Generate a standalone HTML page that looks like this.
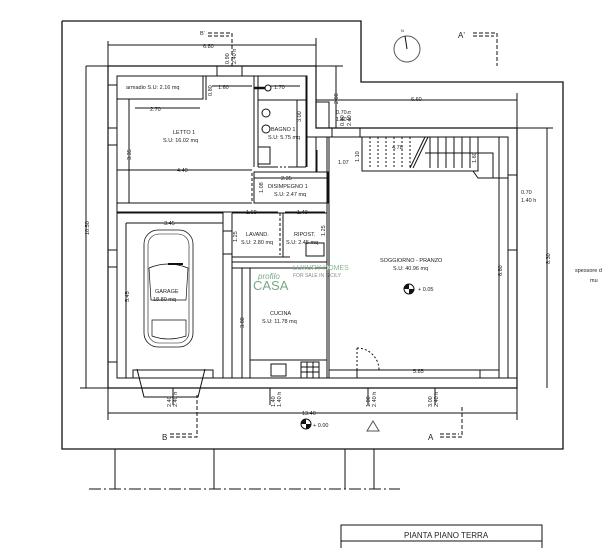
<!DOCTYPE html>
<html><head><meta charset="utf-8"><style>
html,body{margin:0;padding:0;background:#fff;}
svg{display:block;}
text{font-family:"Liberation Sans",sans-serif;fill:#222;}
</style></head><body>
<svg width="606" height="548" viewBox="0 0 606 548" xmlns="http://www.w3.org/2000/svg">
<g fill="none" stroke="#111" stroke-width="1">
<polyline points="62,21 361,21 361,82 563,82 563,449 62,449 62,21" stroke-width="1.3"/>
<polyline points="108,66 316,66 316,128 517,128 517,388 108,388 108,66" stroke-width="1.2"/>
<polyline points="117,76 307,76 307,137 508,137 508,378 117,378 117,76"/>
<rect x="217" y="66" width="25" height="10"/>
<rect x="316" y="102" width="13" height="26"/>
<line x1="316" y1="128" x2="329" y2="128"/>
<rect x="332" y="128" width="28" height="9"/>
<line x1="108" y1="85" x2="117" y2="85"/><line x1="108" y1="128" x2="117" y2="128"/><line x1="108" y1="145" x2="117" y2="145"/>
<line x1="108" y1="250" x2="117" y2="250"/><line x1="108" y1="267" x2="117" y2="267"/><line x1="108" y1="362" x2="117" y2="362"/>
<rect x="117" y="76" width="86" height="23"/>
<line x1="117" y1="99" x2="203" y2="99" stroke-dasharray="3,2"/>
<line x1="203" y1="76" x2="203" y2="99"/><line x1="206" y1="76" x2="206" y2="100"/>
<line x1="117" y1="203" x2="252" y2="203"/>
<line x1="117" y1="212" x2="252" y2="212"/>
<line x1="252" y1="173" x2="252" y2="203" stroke-dasharray="3,2"/>
<line x1="254" y1="76" x2="254" y2="167"/>
<line x1="258" y1="100" x2="306" y2="100"/>
<line x1="258" y1="76" x2="258" y2="167"/>
<line x1="258" y1="167" x2="276" y2="167"/><line x1="288" y1="167" x2="306" y2="167"/>
<line x1="276" y1="167" x2="288" y2="167" stroke-dasharray="2,2"/>
<line x1="307" y1="76" x2="307" y2="167"/><line x1="306" y1="76" x2="306" y2="167"/>
<line x1="316" y1="137" x2="316" y2="172"/>
<line x1="307" y1="137" x2="329" y2="137"/>
<line x1="329" y1="137" x2="329" y2="378"/>
<line x1="327" y1="137" x2="327" y2="378"/>
<rect x="258" y="147" width="12" height="17"/>
<circle cx="266" cy="113" r="4"/><circle cx="266" cy="129" r="4"/>
<circle cx="268" cy="88" r="3"/>
<line x1="254" y1="88" x2="265" y2="88" stroke-width="2.5"/>
<rect x="254" y="172" width="74" height="31"/>
<line x1="232" y1="213" x2="327" y2="213"/>
<line x1="232" y1="213" x2="232" y2="378"/>
<line x1="280" y1="213" x2="280" y2="255" stroke-dasharray="3,2"/>
<line x1="283" y1="213" x2="283" y2="257"/>
<line x1="232" y1="257" x2="290" y2="257"/>
<line x1="232" y1="262" x2="327" y2="262"/>
<line x1="232" y1="268" x2="327" y2="268"/>
<rect x="306" y="243" width="18" height="13"/>
<line x1="223" y1="231" x2="232" y2="231"/><line x1="223" y1="254" x2="232" y2="254"/>
<line x1="223" y1="255" x2="223" y2="231" stroke-dasharray="3,2"/>
<line x1="250" y1="268" x2="250" y2="378"/>
<line x1="250" y1="360" x2="327" y2="360"/>
<rect x="271" y="364" width="15" height="12"/>
<rect x="301" y="362" width="18" height="16"/>
<line x1="301" y1="367" x2="319" y2="367"/><line x1="301" y1="372" x2="319" y2="372"/>
<line x1="307" y1="362" x2="307" y2="378"/><line x1="313" y1="362" x2="313" y2="378"/>
<line x1="327" y1="210" x2="327" y2="350" stroke-dasharray="3,2"/>
<rect x="117" y="213" width="106" height="165"/>
<line x1="126" y1="223" x2="223" y2="223"/>
<line x1="126" y1="223" x2="126" y2="378"/>
<rect x="133" y="370" width="80" height="8"/>
<polyline points="137,369 144,397 198,397 205,369"/>
<rect x="144" y="230" width="49" height="117" rx="14" stroke-width="0.8"/>
<rect x="148" y="234" width="41" height="109" rx="11" stroke-width="0.6"/>
<path d="M149,268 Q168,260 188,268 L186,300 L151,300 Z" stroke-width="0.7"/>
<line x1="168" y1="264" x2="183" y2="264" stroke-width="2"/>
<path d="M152,320 L186,320 L186,336 Q168,342 152,336 Z" stroke-width="0.7"/>
<line x1="329" y1="370" x2="499" y2="370"/>
<rect x="357" y="370" width="123" height="8"/>
<line x1="357" y1="348" x2="357" y2="370" stroke-dasharray="2,2"/>
<path d="M357,348 A22,22 0 0 1 379,370" stroke-dasharray="2,2"/>
<line x1="499" y1="137" x2="499" y2="378"/>
<rect x="508" y="175" width="9" height="203"/>
<line x1="508" y1="250" x2="517" y2="250"/>
<rect x="362" y="137" width="116" height="34"/>
<g stroke-dasharray="2,2">
<line x1="370" y1="137" x2="370" y2="168"/><line x1="378" y1="137" x2="378" y2="168"/><line x1="386" y1="137" x2="386" y2="168"/><line x1="394" y1="137" x2="394" y2="168"/><line x1="402" y1="137" x2="402" y2="168"/><line x1="410" y1="137" x2="410" y2="168"/>
</g>
<line x1="430" y1="137" x2="430" y2="168"/><line x1="438" y1="137" x2="438" y2="168"/><line x1="446" y1="137" x2="446" y2="168"/><line x1="454" y1="137" x2="454" y2="168"/><line x1="462" y1="137" x2="462" y2="168"/><line x1="470" y1="137" x2="470" y2="168"/>
<line x1="410" y1="168" x2="425" y2="137"/><line x1="413" y1="168" x2="428" y2="137"/>
<polyline points="425,153 493,153 493,178"/>
<polyline points="473,171 478,178 508,178"/>
<line x1="108" y1="45" x2="316" y2="45"/>
<line x1="108" y1="41" x2="108" y2="66"/><line x1="316" y1="38" x2="316" y2="66"/>
<line x1="86" y1="66" x2="343" y2="66"/>
<line x1="86" y1="66" x2="86" y2="388"/>
<line x1="80" y1="388" x2="517" y2="388"/>
<line x1="108" y1="413" x2="517" y2="413"/>
<line x1="108" y1="388" x2="108" y2="420"/><line x1="517" y1="388" x2="517" y2="420"/>
<line x1="316" y1="100" x2="517" y2="100"/>
<line x1="517" y1="93" x2="517" y2="128"/>
<line x1="547" y1="128" x2="547" y2="388"/>
<line x1="329" y1="128" x2="553" y2="128"/>
<line x1="336" y1="66" x2="336" y2="128"/>
<line x1="135" y1="108" x2="200" y2="108"/><line x1="129" y1="99" x2="129" y2="203"/>
<line x1="117" y1="170" x2="252" y2="170"/>
<line x1="212" y1="86" x2="252" y2="86"/>
<line x1="270" y1="86" x2="300" y2="86"/>
<line x1="297" y1="100" x2="297" y2="167"/>
<line x1="254" y1="178" x2="327" y2="178"/>
<line x1="236" y1="212" x2="278" y2="212"/><line x1="285" y1="212" x2="325" y2="212"/>
<line x1="242" y1="268" x2="242" y2="378"/>
<line x1="317" y1="150" x2="317" y2="172"/>
<line x1="173" y1="388" x2="173" y2="405"/><line x1="270" y1="388" x2="270" y2="405"/>
<line x1="368" y1="388" x2="368" y2="405"/><line x1="435" y1="388" x2="435" y2="405"/>
<g stroke-dasharray="4,2">
<polyline points="208,33 232,33 232,66"/><polyline points="208,36 229,36"/>
<polyline points="473,33 497,33 497,66"/><polyline points="473,36 494,36"/>
<polyline points="170,437 197,437 197,395"/><polyline points="170,434 194,434"/>
<polyline points="440,437 462,437 462,405"/><polyline points="440,434 459,434"/>
</g>
<circle cx="407" cy="49" r="13" stroke="#555"/>
<line x1="405" y1="36" x2="407" y2="49"/>
<polygon points="373,421 367,431 379,431" stroke="#555"/>
<line x1="115" y1="449" x2="115" y2="489"/><line x1="214" y1="449" x2="214" y2="489"/>
<line x1="345" y1="449" x2="345" y2="489"/><line x1="374" y1="449" x2="374" y2="489"/>
<line x1="89" y1="489" x2="400" y2="489" stroke-dasharray="12,3,2,3"/>
<rect x="341" y="525" width="201" height="30"/>
<line x1="341" y1="541" x2="542" y2="541"/>
</g>
<g fill="#111">
<circle cx="409" cy="289" r="5" fill="none" stroke="#111"/>
<path d="M409,289 L409,284 A5,5 0 0 0 404,289 Z"/><path d="M409,289 L414,289 A5,5 0 0 1 409,294 Z"/>
<circle cx="306" cy="424" r="5" fill="none" stroke="#111"/>
<path d="M306,424 L306,419 A5,5 0 0 0 301,424 Z"/><path d="M306,424 L311,424 A5,5 0 0 1 306,429 Z"/>
</g>
<text x="253" y="290" font-family="Liberation Serif" font-size="13" style="fill:#7aa888">CASA</text>
<text x="258" y="279" font-family="Liberation Serif" font-size="8" font-style="italic" style="fill:#7aa888">profilo</text>
<text x="293" y="270" font-size="7" style="fill:#8ab898">LUXURY HOMES</text>
<text x="293" y="277" font-size="5" style="fill:#888">FOR SALE IN SICILY</text>
<g font-size="5.5">
<text x="200" y="35">B'</text>
<text x="458" y="38" font-size="8">A'</text>
<text x="162" y="440" font-size="8">B</text>
<text x="428" y="440" font-size="8">A</text>
<text x="401" y="32" font-size="4">N</text>
<text x="203" y="48">6.80</text>
<text x="126" y="89">armadio S.U: 2.16 mq</text>
<text x="218" y="89">1.60</text>
<text x="274" y="89">1.70</text>
<text x="150" y="111">2.70</text>
<text x="173" y="134">LETTO 1</text>
<text x="163" y="142">S.U: 16.02 mq</text>
<text x="177" y="172">4.40</text>
<text x="271" y="131">BAGNO 1</text>
<text x="268" y="139">S.U: 5.75 mq</text>
<text x="281" y="180">2.35</text>
<text x="268" y="188">DISIMPEGNO 1</text>
<text x="274" y="196">S.U: 2.47 mq</text>
<text x="246" y="214">1.60</text>
<text x="297" y="214">1.40</text>
<text x="246" y="236">LAVAND.</text>
<text x="241" y="244">S.U: 2.80 mq</text>
<text x="294" y="236">RIPOST.</text>
<text x="286" y="244">S.U: 2.45 mq</text>
<text x="164" y="225">3.45</text>
<text x="155" y="293">GARAGE</text>
<text x="153" y="301">18.80 mq</text>
<text x="270" y="315">CUCINA</text>
<text x="262" y="323">S.U: 11.78 mq</text>
<text x="380" y="262">SOGGIORNO - PRANZO</text>
<text x="393" y="270">S.U: 40.96 mq</text>
<text x="418" y="291">+ 0.05</text>
<text x="411" y="101">6.60</text>
<text x="336" y="114">0.70</text>
<text x="336" y="121">1.40 h</text>
<text x="521" y="194">0.70</text>
<text x="521" y="202">1.40 h</text>
<text x="338" y="164">1.07</text>
<text x="392" y="149">4.78</text>
<text x="413" y="373">5.85</text>
<text x="302" y="415">13.40</text>
<text x="313" y="427">+ 0.00</text>
<text x="575" y="272">spessore d</text>
<text x="590" y="282">mu</text>
<text x="404" y="538" font-size="8">PIANTA PIANO TERRA</text>
</g>
<g font-size="5.5">
<text transform="translate(89,235) rotate(-90)">10.50</text>
<text transform="translate(131,160) rotate(-90)">3.35</text>
<text transform="translate(129,302) rotate(-90)">5.45</text>
<text transform="translate(244,328) rotate(-90)">3.80</text>
<text transform="translate(301,122) rotate(-90)">3.00</text>
<text transform="translate(338,104) rotate(-90)">2.00</text>
<text transform="translate(502,276) rotate(-90)">6.80</text>
<text transform="translate(550,264) rotate(-90)">8.30</text>
<text transform="translate(476,163) rotate(-90)">1.60</text>
<text transform="translate(359,162) rotate(-90)">1.10</text>
<text transform="translate(263,193) rotate(-90)">1.08</text>
<text transform="translate(237,242) rotate(-90)">1.25</text>
<text transform="translate(325,236) rotate(-90)">1.25</text>
<text transform="translate(171,407) rotate(-90)">2.40</text>
<text transform="translate(177,407) rotate(-90)">2.40 h</text>
<text transform="translate(275,407) rotate(-90)">1.40</text>
<text transform="translate(281,407) rotate(-90)">1.40 h</text>
<text transform="translate(370,407) rotate(-90)">1.00</text>
<text transform="translate(376,407) rotate(-90)">2.40 h</text>
<text transform="translate(432,407) rotate(-90)">3.00</text>
<text transform="translate(438,407) rotate(-90)">2.40 h</text>
<text transform="translate(229,64) rotate(-90)">0.90</text>
<text transform="translate(236,64) rotate(-90)">2.40 h</text>
<text transform="translate(212,96) rotate(-90)">0.80</text>
<text transform="translate(344,126) rotate(-90)">0.90</text>
<text transform="translate(351,126) rotate(-90)">2.40 h</text>
</g>
</svg>
</body></html>
